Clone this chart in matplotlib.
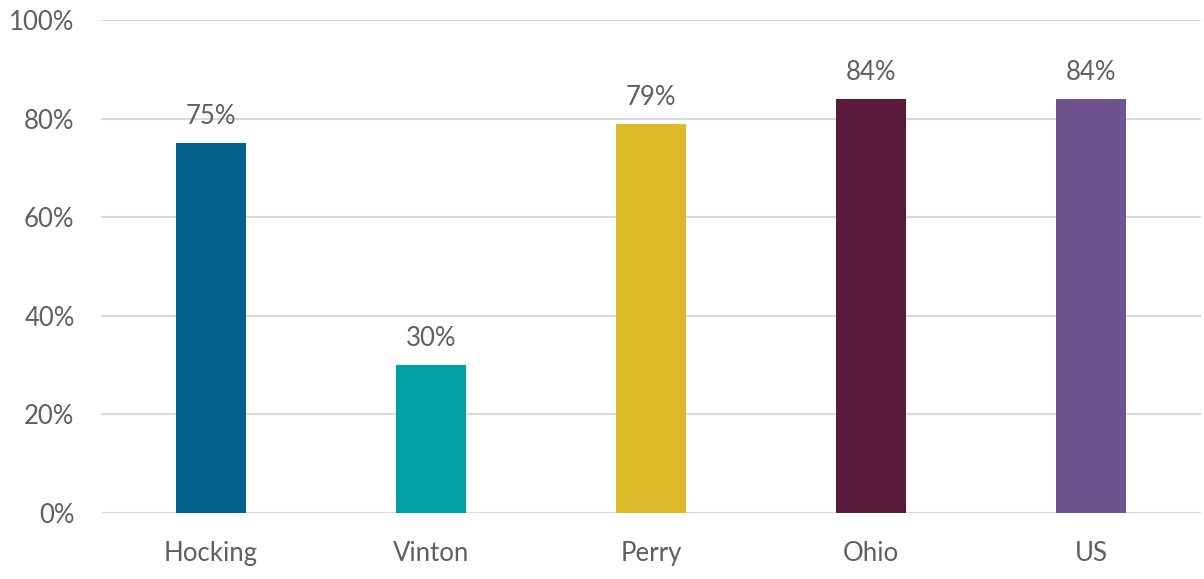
import matplotlib
matplotlib.use("Agg")
import matplotlib.pyplot as plt
from matplotlib.ticker import PercentFormatter

# Share of residents (%) by area
areas = ["Hocking", "Vinton", "Perry", "Ohio", "US"]
shares = [75, 30, 79, 84, 84]
bar_colors = ["#03628B", "#00A0A6", "#DBB928", "#5A1A3B", "#6E548F"]

TEXT = "#5F5F5F"
GRID = "#D9D9D9"

plt.rcParams["font.family"] = ["Lato", "DejaVu Sans"]

fig = plt.figure(figsize=(12.04, 5.79), dpi=100)
ax = fig.add_axes([101 / 1204, 1 - 513 / 579, 1100 / 1204, 493 / 579])

x = range(len(areas))
ax.bar(x, shares, width=0.315, color=bar_colors, zorder=3)

for xi, v in zip(x, shares):
    ax.annotate(f"{v}%", (xi, v), xytext=(0, 10), textcoords="offset points",
                ha="center", va="bottom", fontsize=18.5, color=TEXT)

ax.set_xlim(-0.5, len(areas) - 0.5)
ax.set_ylim(0, 100)
ax.set_yticks(range(0, 101, 20))
ax.yaxis.set_major_formatter(PercentFormatter(decimals=0))
ax.set_xticks(list(x))
ax.set_xticklabels(areas)

ax.grid(axis="y", color=GRID, linewidth=1.5, zorder=0)
ax.tick_params(axis="both", length=0, labelsize=18.5, labelcolor=TEXT)
ax.tick_params(axis="y", pad=19)
ax.tick_params(axis="x", pad=20)
for side in ["top", "right", "left", "bottom"]:
    ax.spines[side].set_visible(False)

fig.savefig("out.png", dpi=100, facecolor="white")
